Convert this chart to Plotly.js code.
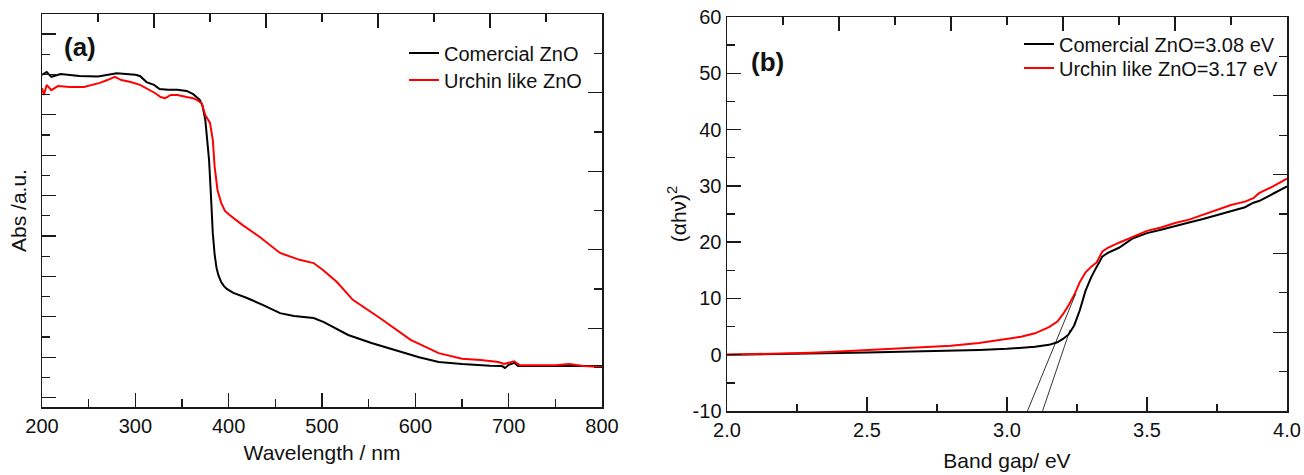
<!DOCTYPE html>
<html>
<head>
<meta charset="utf-8">
<script src="https://cdn.plot.ly/plotly-3.0.1.min.js"></script>
<style>html,body{margin:0;padding:0;background:#fff;}#chart{width:1304px;height:475px;}</style>
</head>
<body>
<div id="chart"></div>
<script>
// ---------- Panel (a): UV-Vis absorbance ----------
const wlComercial = [200,205,210,220,240,260,280,290,300,305,312,320,326,335,345,355,362,369,372,375,377,379,381,383,385,387,389,392,395,398,405,419,437,455,470,491,502,515,528,553,578,604,625,650,680,693,696,700,706,710,750,800];
const absComercial = [0.799,0.806,0.794,0.801,0.796,0.795,0.803,0.801,0.799,0.796,0.781,0.774,0.764,0.762,0.762,0.759,0.751,0.737,0.722,0.687,0.638,0.588,0.501,0.407,0.353,0.321,0.303,0.286,0.276,0.269,0.259,0.247,0.229,0.209,0.202,0.197,0.187,0.172,0.155,0.135,0.117,0.100,0.088,0.083,0.079,0.078,0.073,0.081,0.086,0.078,0.078,0.078];
const wlUrchin = [200,202,205,210,217,230,245,262,270,278,285,295,305,315,321,327,332,338,345,355,362,366,371,375,378,380,383,385,388,392,396,401,415,433,455,476,491,501,516,533,562,595,625,650,670,689,695,700,706,712,750,765,780,800];
const absUrchin = [0.766,0.749,0.774,0.761,0.771,0.769,0.769,0.779,0.786,0.794,0.786,0.781,0.774,0.761,0.754,0.744,0.741,0.749,0.749,0.744,0.741,0.737,0.729,0.699,0.687,0.680,0.638,0.571,0.514,0.482,0.462,0.452,0.427,0.398,0.358,0.341,0.333,0.316,0.286,0.242,0.197,0.143,0.110,0.096,0.093,0.088,0.083,0.086,0.090,0.080,0.080,0.083,0.078,0.076];

// ---------- Panel (b): Tauc plot ----------
const eV = [2.0,2.1,2.2,2.3,2.4,2.5,2.6,2.7,2.8,2.9,3.0,3.05,3.1,3.15,3.18,3.2,3.22,3.24,3.26,3.28,3.3,3.32,3.34,3.36,3.4,3.45,3.5,3.55,3.6,3.65,3.7,3.75,3.8,3.85,3.88,3.9,3.95,4.0];
const taucComercial = [0.0,0.05,0.1,0.2,0.3,0.4,0.5,0.6,0.7,0.85,1.05,1.2,1.4,1.75,2.2,2.8,3.6,5.2,7.9,11.3,13.7,15.6,17.4,18.1,19.0,20.7,21.6,22.2,22.9,23.5,24.1,24.8,25.4,26.2,27.0,27.3,28.6,29.9];
const taucUrchin = [0.0,0.1,0.2,0.35,0.55,0.8,1.0,1.25,1.6,2.1,2.8,3.2,3.8,4.9,5.9,7.2,8.8,10.6,12.9,14.6,15.6,16.4,18.3,19.0,19.9,21.0,22.0,22.6,23.4,24.0,24.9,25.7,26.6,27.2,27.8,28.7,29.9,31.3];
// tangent (extrapolation) lines
const tangentUrchinX = [3.073, 3.245];
const tangentUrchinY = [-10, 10.8];
const tangentComercialX = [3.127, 3.225];
const tangentComercialY = [-10, 4.4];

const legendA = ['Comercial ZnO', 'Urchin like ZnO'];
const legendB = ['Comercial ZnO=3.08 eV', 'Urchin like ZnO=3.17 eV'];
const xTicksA = [200,300,400,500,600,700,800];
const xTicksB = [2.0,2.5,3.0,3.5,4.0];
const yTicksB = [-10,0,10,20,30,40,50,60];

const FONT = 'Liberation Sans, Arial, Helvetica, sans-serif';
const W = 1304, H = 475;
const px = (a,b) => [a/W, b/W];
const py = (top,bottom) => [1-bottom/H, 1-top/H];
const INK = '#1a1a1a';

const traces = [
  {x: wlComercial, y: absComercial, xaxis:'x', yaxis:'y', type:'scatter', mode:'lines', name: legendA[0],
   line:{color:'#000000', width:2}, legend:'legend'},
  {x: wlUrchin, y: absUrchin, xaxis:'x', yaxis:'y', type:'scatter', mode:'lines', name: legendA[1],
   line:{color:'#ff0000', width:2}, legend:'legend2'},
  {x: eV, y: taucComercial, xaxis:'x3', yaxis:'y3', type:'scatter', mode:'lines', name: legendB[0],
   line:{color:'#000000', width:2}, legend:'legend3'},
  {x: eV, y: taucUrchin, xaxis:'x3', yaxis:'y3', type:'scatter', mode:'lines', name: legendB[1],
   line:{color:'#ff0000', width:2}, legend:'legend4'},
  {x: tangentUrchinX, y: tangentUrchinY, xaxis:'x3', yaxis:'y3', type:'scatter', mode:'lines',
   line:{color:'#000000', width:0.8}, showlegend:false, hoverinfo:'skip'},
  {x: tangentComercialX, y: tangentComercialY, xaxis:'x3', yaxis:'y3', type:'scatter', mode:'lines',
   line:{color:'#000000', width:0.8}, showlegend:false, hoverinfo:'skip'},
  // empty traces so the mirrored (top / right) frame axes are created and drawn
  {x: [], y: [], xaxis:'x2', yaxis:'y2', type:'scatter', mode:'lines', showlegend:false, hoverinfo:'skip'},
  {x: [], y: [], xaxis:'x4', yaxis:'y4', type:'scatter', mode:'lines', showlegend:false, hoverinfo:'skip'}
];

const lineCommon = {showline:true, linecolor:INK, linewidth:1.5, showgrid:false, zeroline:false,
  ticks:'inside', ticklen:14, tickwidth:1.3, tickcolor:INK, automargin:false, fixedrange:true};
const minorT = (d, t0, len) => ({dtick:d, tick0:t0, ticks:'inside', ticklen:len, tickwidth:1.3, tickcolor:INK});
const tickFont = {family: FONT, size: 20, color:'#111'};
const titleFont = {family: FONT, size: 21, color:'#111'};
const legBase = {xanchor:'left', yanchor:'middle', bgcolor:'rgba(0,0,0,0)', borderwidth:0};

const layout = {
  width: W, height: H, autosize:false,
  margin:{l:0, r:0, t:0, b:0, pad:0},
  paper_bgcolor:'#ffffff', plot_bgcolor:'rgba(0,0,0,0)',
  font:{family: FONT, color:'#111'},
  xaxis: Object.assign({}, lineCommon, {domain: px(42,602), anchor:'y', range:[200,800],
    tickmode:'array', tickvals: xTicksA, ticktext: xTicksA.map(String), tickfont: tickFont,
    minor: minorT(50, 200, 8),
    title:{text:'Wavelength / nm', font: titleFont, standoff: 10}}),
  yaxis: Object.assign({}, lineCommon, {domain: py(14,407), anchor:'x', range:[-0.0233, 0.9495],
    tick0:0, dtick:0.1, showticklabels:false, minor: minorT(0.05, 0, 8),
    title:{text:'Abs /a.u.', font: titleFont, standoff: 8}}),
  xaxis2: Object.assign({}, lineCommon, {overlaying:'x', side:'top', anchor:'y2', range:[0,10],
    tick0:0, dtick:2, showticklabels:false, minor: minorT(1, 0, 8)}),
  yaxis2: Object.assign({}, lineCommon, {overlaying:'y', side:'right', anchor:'x2', range:[0,10],
    tick0:0, dtick:2, showticklabels:false, minor: minorT(1, 0, 8)}),
  xaxis3: Object.assign({}, lineCommon, {domain: px(727,1287), anchor:'y3', range:[2,4],
    tickmode:'array', tickvals: xTicksB, ticktext: xTicksB.map(v=>v.toFixed(1)), tickfont: tickFont,
    minor: minorT(0.25, 2, 7),
    title:{text:'Band gap/ eV', font: titleFont, standoff: 14}}),
  yaxis3: Object.assign({}, lineCommon, {domain: py(17,411), anchor:'x3', range:[-10,60],
    tickmode:'array', tickvals: yTicksB, ticktext: yTicksB.map(String), tickfont: tickFont,
    minor: minorT(5, 0, 8),
    title:{text:'(αhν)<sup>2</sup>', font: titleFont, standoff: 0}}),
  xaxis4: Object.assign({}, lineCommon, {overlaying:'x3', side:'top', anchor:'y4', range:[0,10],
    tick0:0, dtick:2, showticklabels:false, minor: minorT(1, 0, 8)}),
  yaxis4: Object.assign({}, lineCommon, {overlaying:'y3', side:'right', anchor:'x4', range:[0,10],
    tick0:0, dtick:2, showticklabels:false, minor: minorT(1, 0, 8)}),
  legend:  Object.assign({}, legBase, {x: 404/W,  y: 1-53/H, font:{family: FONT, size:20, color:'#111'}}),
  legend2: Object.assign({}, legBase, {x: 404/W,  y: 1-80/H, font:{family: FONT, size:20, color:'#111'}}),
  legend3: Object.assign({}, legBase, {x: 1019/W, y: 1-44/H, font:{family: FONT, size:20, color:'#111'}}),
  legend4: Object.assign({}, legBase, {x: 1019/W, y: 1-68/H, font:{family: FONT, size:20, color:'#111'}}),
  annotations: [
    {xref:'paper', yref:'paper', x:62/W, y:1-47/H, xanchor:'left', yanchor:'middle', showarrow:false,
     text:'<b>(a)</b>', font:{family: FONT, size:26, color:'#111'}},
    {xref:'paper', yref:'paper', x:749/W, y:1-62/H, xanchor:'left', yanchor:'middle', showarrow:false,
     text:'<b>(b)</b>', font:{family: FONT, size:26, color:'#111'}}
  ],
  showlegend:true
};

Plotly.newPlot('chart', traces, layout, {displayModeBar:false, staticPlot:true});
</script>
</body>
</html>
